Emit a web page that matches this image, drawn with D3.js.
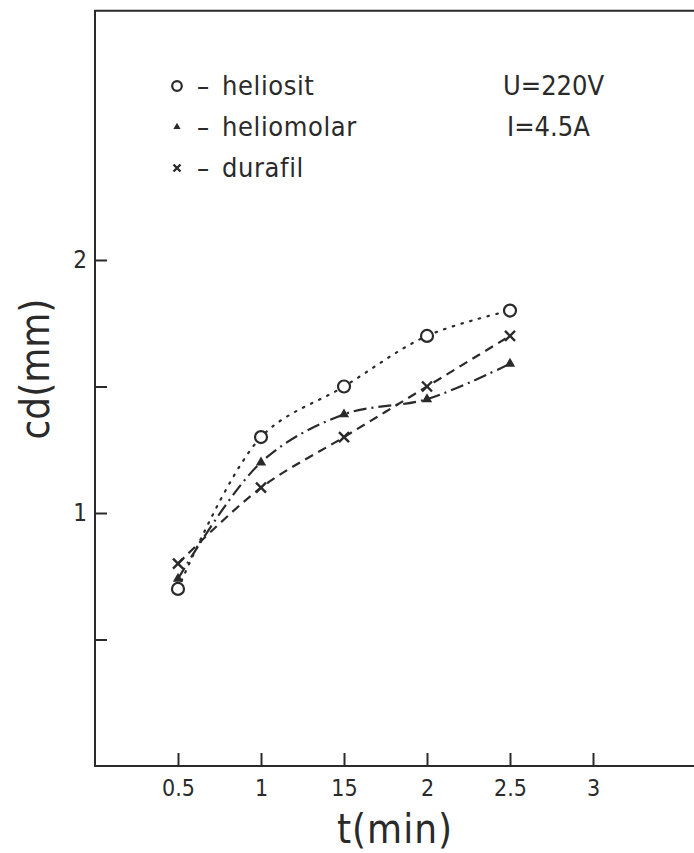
<!DOCTYPE html>
<html>
<head>
<meta charset="utf-8">
<script src="https://cdn.jsdelivr.net/npm/d3@7"></script>
<style>
  body { margin: 0; background: #fff; }
  svg { display: block; }
  text { font-family: "DejaVu Sans Condensed", "DejaVu Sans", sans-serif; fill: #2a2a2a; }
</style>
</head>
<body>
<div id="chart"></div>
<script>
// ============= Data =============
const times = [0.5, 1, 1.5, 2, 2.5];
const heliosit = [0.7, 1.3, 1.5, 1.7, 1.8];
const heliomolar = [0.74, 1.2, 1.39, 1.45, 1.59];
const durafil = [0.8, 1.1, 1.3, 1.5, 1.7];

const xTicks = [0.5, 1, 1.5, 2, 2.5, 3];
const xTickLabels = ["0.5", "1", "15", "2", "2.5", "3"];
const yTicks = [0.5, 1, 1.5, 2];
const yTickLabels = { 1: "1", 2: "2" };

const series = [
    { name: "heliosit", values: heliosit, marker: "circle", dash: "1.5,7.5" },
    { name: "heliomolar", values: heliomolar, marker: "triangle", dash: "13,5,2,5" },
    { name: "durafil", values: durafil, marker: "cross", dash: "9,6" }
];

const width = 694;
const height = 853;
const ink = "#2a2a2a";

// ============= Scales =============
const x = d3.scaleLinear().domain([0, 3]).range([95, 593]);
const y = d3.scaleLinear().domain([0, 3]).range([766, 7]);

const svg = d3.select("#chart")
    .append("svg")
    .attr("width", width)
    .attr("height", height);

// frame: left, top and bottom (right side runs off the page)
svg.append("path")
    .attr("d", `M${width},${y(2.985)}H${x(0)}V${y(0)}H${width}`)
    .attr("stroke", ink)
    .attr("stroke-width", 2)
    .attr("fill", "none");

// x ticks pointing inward
svg.append("g")
    .attr("transform", `translate(0, ${y(0)})`)
    .call(d3.axisBottom(x).tickValues(xTicks).tickSize(-13)
        .tickFormat((d, i) => xTickLabels[i]))
    .call(g => g.select(".domain").remove())
    .call(g => g.selectAll(".tick line").attr("stroke", ink).attr("stroke-width", 2))
    .call(g => g.selectAll(".tick text").attr("font-size", 23).attr("dy", "0.71em")
        .attr("y", 14).style("fill", ink));

// y ticks pointing inward
svg.append("g")
    .attr("transform", `translate(${x(0)}, 0)`)
    .call(d3.axisLeft(y).tickValues(yTicks).tickSize(-12).tickPadding(8)
        .tickFormat(d => yTickLabels[d] || ""))
    .call(g => g.select(".domain").remove())
    .call(g => g.selectAll(".tick line").attr("stroke", ink).attr("stroke-width", 2))
    .call(g => g.selectAll(".tick text").attr("font-size", 24).style("fill", ink));

// axis titles
svg.append("text")
    .attr("x", 395)
    .attr("y", 843)
    .attr("text-anchor", "middle")
    .attr("font-size", 40)
    .attr("letter-spacing", 1)
    .text("t(min)");

svg.append("text")
    .attr("transform", `translate(49, 369) rotate(-90)`)
    .attr("text-anchor", "middle")
    .attr("font-size", 40)
    .text("cd(mm)");

// ============= Lines =============
const line = d3.line()
    .x(d => x(d[0]))
    .y(d => y(d[1]))
    .curve(d3.curveCatmullRom.alpha(0.5));

svg.append("g")
    .selectAll("path")
    .data(series)
    .join("path")
    .attr("d", s => line(times.map((t, i) => [t, s.values[i]])))
    .attr("fill", "none")
    .attr("stroke", ink)
    .attr("stroke-width", 2.2)
    .attr("stroke-linecap", s => s.marker === "circle" ? "round" : "butt")
    .attr("stroke-dasharray", s => s.dash);

// ============= Markers =============
function drawMarker(g, type, scale) {
    if (type === "circle") {
        g.append("circle").attr("r", 6 * scale)
            .attr("fill", "#fff").attr("stroke", ink).attr("stroke-width", 2.2);
    } else if (type === "triangle") {
        g.append("path").attr("d", d3.symbol(d3.symbolTriangle, 46 * scale * scale))
            .attr("fill", ink);
    } else {
        const r = 5 * scale;
        g.append("path").attr("d", `M${-r},${-r}L${r},${r}M${-r},${r}L${r},${-r}`)
            .attr("stroke", ink).attr("stroke-width", 2.4).attr("fill", "none");
    }
}

series.forEach(s => {
    svg.append("g")
        .selectAll("g")
        .data(times.map((t, i) => [t, s.values[i]]))
        .join("g")
        .attr("transform", d => `translate(${x(d[0])}, ${y(d[1])})`)
        .each(function () { drawMarker(d3.select(this), s.marker, 1); });
});

// ============= Legend =============
series.forEach((s, i) => {
    const row = svg.append("g").attr("transform", `translate(177, ${86 + i * 41})`);
    drawMarker(row.append("g"), s.marker, s.marker === "circle" ? 0.8 : 0.7);
    row.append("text").attr("x", 20).attr("y", 9).attr("font-size", 27).text("–");
    row.append("text").attr("x", 45).attr("y", 9).attr("font-size", 27)
        .attr("letter-spacing", 0.6).text(s.name);
});

svg.append("text").attr("x", 503).attr("y", 95).attr("font-size", 27).text("U=220V");
svg.append("text").attr("x", 507).attr("y", 136).attr("font-size", 27).text("I=4.5A");
</script>
</body>
</html>
